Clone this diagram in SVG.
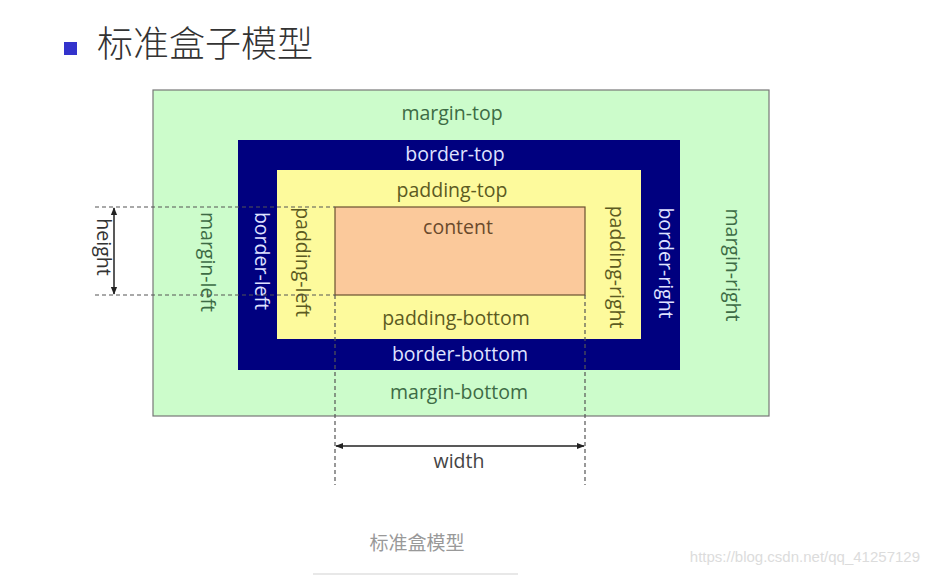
<svg xmlns="http://www.w3.org/2000/svg" width="929" height="576" viewBox="0 0 929 576">
<defs>
<marker id="ah" viewBox="0 0 10 10" refX="9" refY="5" markerWidth="8" markerHeight="8" orient="auto-start-reverse" markerUnits="userSpaceOnUse">
<path d="M0,1 L10,5 L0,9 Z" fill="#222"/>
</marker>
<style>
.t{font-family:"Open Sans","Liberation Sans",sans-serif;font-size:19.5px;text-anchor:middle;dominant-baseline:central}
.m{fill:#3d6b45}
.b{fill:#dfe2ff}
.p{fill:#5c5a22}
.c{fill:#6a4a2c}
.dash{stroke:#555;stroke-width:1.2;stroke-dasharray:4 3;fill:none}
.arr{stroke:#222;stroke-width:1.5;fill:none;marker-start:url(#ah);marker-end:url(#ah)}
</style>
</defs>
<rect width="929" height="576" fill="#fff"/>
<g id="title">
<rect x="64" y="42" width="13" height="13" fill="#3333cc"/>
<text x="97" y="57" font-family="'Noto Sans CJK SC',sans-serif" font-size="36" font-weight="300" fill="#333">标准盒子模型</text>
</g>
<g id="margin">
<rect x="153" y="90" width="616" height="326" fill="#ccfccb" stroke="#777" stroke-width="1.2"/>
<text class="t m" x="452" y="112">margin-top</text>
<text class="t m" x="459" y="391">margin-bottom</text>
<text class="t m" transform="translate(208,262) rotate(90)">margin-left</text>
<text class="t m" transform="translate(733,265) rotate(90)">margin-right</text>
</g>
<g id="border">
<rect x="238" y="140" width="442" height="230" fill="#00007f"/>
<text class="t b" x="455" y="153">border-top</text>
<text class="t b" x="460" y="353">border-bottom</text>
<text class="t b" transform="translate(262,261) rotate(90)">border-left</text>
<text class="t b" transform="translate(666,263) rotate(90)">border-right</text>
</g>
<g id="padding">
<rect x="277" y="170" width="364" height="169" fill="#fdfa9c"/>
<text class="t p" x="452" y="189">padding-top</text>
<text class="t p" x="456" y="317">padding-bottom</text>
<text class="t p" transform="translate(303,262) rotate(90)">padding-left</text>
<text class="t p" transform="translate(617,267) rotate(90)">padding-right</text>
</g>
<g id="content">
<rect x="335" y="207" width="250" height="88" fill="#fbc99b" stroke="#6a5030" stroke-width="1.2"/>
<text class="t c" x="458" y="226">content</text>
</g>
<g id="connectors">
<line class="dash" x1="95" y1="207" x2="335" y2="207"/>
<line class="dash" x1="95" y1="295" x2="335" y2="295"/>
<line class="dash" x1="335" y1="295" x2="335" y2="485"/>
<line class="dash" x1="585" y1="295" x2="585" y2="485"/>
<line class="arr" x1="114" y1="208" x2="114" y2="294"/>
<line class="arr" x1="336" y1="446" x2="584" y2="446"/>
</g>
<g id="labels">
<text class="t" fill="#333" transform="translate(104,247) rotate(90)">height</text>
<text class="t" fill="#444" x="459" y="460">width</text>
</g>
<g id="caption">
<text x="417" y="550" font-family="'Noto Sans CJK SC',sans-serif" font-size="19" fill="#999" text-anchor="middle">标准盒模型</text>
<line x1="313" y1="574" x2="518" y2="574" stroke="#e8e8e8" stroke-width="2"/>
<text x="920" y="562" font-family="'Liberation Sans',Arial,sans-serif" font-size="15" fill="#dcdcdc" text-anchor="end">https://blog.csdn.net/qq_41257129</text>
</g>
</svg>
